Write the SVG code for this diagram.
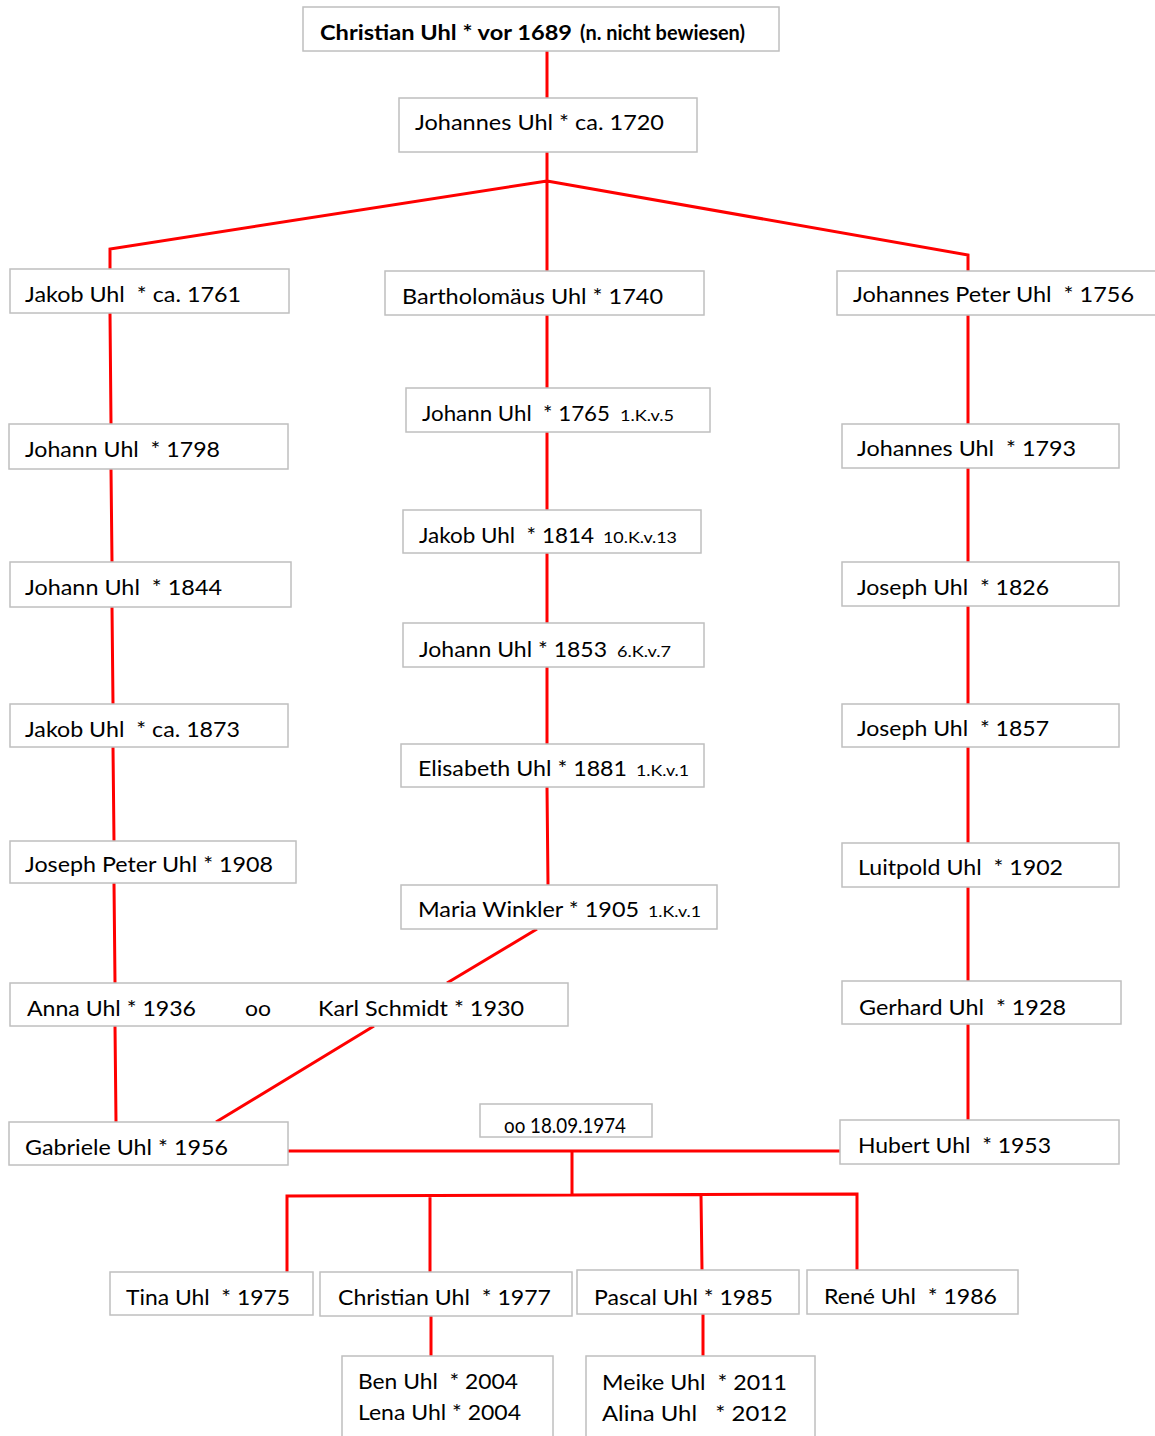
<svg xmlns="http://www.w3.org/2000/svg" width="1155" height="1436" viewBox="0 0 1155 1436" xml:space="preserve">
<style>
.box{fill:#fff;stroke:#bfbfbf;stroke-width:1.5}
text{font-family:Lato,"Liberation Sans",sans-serif;font-size:21px;fill:#000;white-space:pre}
.sm{font-size:15px}
.b{font-weight:bold}
.c{stroke:#ff0000;stroke-width:3;fill:none;stroke-linejoin:miter}
</style>
<rect width="1155" height="1436" fill="#fff"/>
<g id="connectors">
<path class="c" d="M547,51V98M547,152V181M547,181L110,249V269M547,181L968,255V271M547,181V271"/>
<path class="c" d="M110,313L111,424M111,469L112,562M112,607L113,704M113,747L114,841M114,883L115,983M115,1026L116,1122"/>
<path class="c" d="M547,315V388M547,432V510M547,553V623M547,667V744M547,787L548,885"/>
<path class="c" d="M537,929L447,983M374,1026L216,1122"/>
<path class="c" d="M968,315V424M968,468V562M968,606V704M968,747V843M968,887V981M968,1024V1120"/>
<path class="c" d="M288,1151H840M572,1151V1195M287,1272V1196L857,1194V1270M430,1196V1272M701,1195L702,1270M431,1316V1356M703,1314V1356"/>
</g>
<g id="n1"><rect class="box" x="303" y="7" width="476" height="44"/><text class="b" x="320" y="40" font-size="22" textLength="252" lengthAdjust="spacingAndGlyphs">Christian Uhl * vor 1689</text><text class="b" x="580" y="40" font-size="16" textLength="165" lengthAdjust="spacingAndGlyphs">(n. nicht bewiesen)</text></g>
<g id="n2"><rect class="box" x="399" y="98" width="298" height="54"/><text x="415" y="130" textLength="249" lengthAdjust="spacingAndGlyphs">Johannes Uhl * ca. 1720</text></g>
<g id="n3"><rect class="box" x="10" y="269" width="279" height="44"/><text x="25" y="302" textLength="216" lengthAdjust="spacingAndGlyphs">Jakob Uhl  * ca. 1761</text></g>
<g id="n4"><rect class="box" x="385" y="271" width="319" height="44"/><text x="402" y="304" textLength="261" lengthAdjust="spacingAndGlyphs">Bartholomäus Uhl * 1740</text></g>
<g id="n5"><rect class="box" x="837" y="271" width="330" height="44"/><text x="853" y="302" textLength="281" lengthAdjust="spacingAndGlyphs">Johannes Peter Uhl  * 1756</text></g>
<g id="n6"><rect class="box" x="406" y="388" width="304" height="44"/><text x="422" y="421" textLength="188" lengthAdjust="spacingAndGlyphs">Johann Uhl  * 1765</text><text class="sm" x="620" y="421" textLength="54" lengthAdjust="spacingAndGlyphs">1.K.v.5</text></g>
<g id="n7"><rect class="box" x="9" y="424" width="279" height="45"/><text x="25" y="457" textLength="195" lengthAdjust="spacingAndGlyphs">Johann Uhl  * 1798</text></g>
<g id="n8"><rect class="box" x="842" y="424" width="277" height="44"/><text x="857" y="456" textLength="219" lengthAdjust="spacingAndGlyphs">Johannes Uhl  * 1793</text></g>
<g id="n9"><rect class="box" x="403" y="510" width="298" height="43"/><text x="419" y="543" textLength="175" lengthAdjust="spacingAndGlyphs">Jakob Uhl  * 1814</text><text class="sm" x="603" y="543" textLength="74" lengthAdjust="spacingAndGlyphs">10.K.v.13</text></g>
<g id="n10"><rect class="box" x="10" y="562" width="281" height="45"/><text x="25" y="595" textLength="197" lengthAdjust="spacingAndGlyphs">Johann Uhl  * 1844</text></g>
<g id="n11"><rect class="box" x="842" y="562" width="277" height="44"/><text x="857" y="595" textLength="192" lengthAdjust="spacingAndGlyphs">Joseph Uhl  * 1826</text></g>
<g id="n12"><rect class="box" x="403" y="623" width="301" height="44"/><text x="419" y="657" textLength="188" lengthAdjust="spacingAndGlyphs">Johann Uhl * 1853</text><text class="sm" x="617" y="657" textLength="54" lengthAdjust="spacingAndGlyphs">6.K.v.7</text></g>
<g id="n13"><rect class="box" x="10" y="704" width="278" height="43"/><text x="25" y="737" textLength="215" lengthAdjust="spacingAndGlyphs">Jakob Uhl  * ca. 1873</text></g>
<g id="n14"><rect class="box" x="842" y="704" width="277" height="43"/><text x="857" y="736" textLength="192" lengthAdjust="spacingAndGlyphs">Joseph Uhl  * 1857</text></g>
<g id="n15"><rect class="box" x="401" y="744" width="303" height="43"/><text x="418" y="776" textLength="209" lengthAdjust="spacingAndGlyphs">Elisabeth Uhl * 1881</text><text class="sm" x="636" y="776" textLength="53" lengthAdjust="spacingAndGlyphs">1.K.v.1</text></g>
<g id="n16"><rect class="box" x="10" y="841" width="286" height="42"/><text x="25" y="872" textLength="248" lengthAdjust="spacingAndGlyphs">Joseph Peter Uhl * 1908</text></g>
<g id="n17"><rect class="box" x="842" y="843" width="277" height="44"/><text x="858" y="875" textLength="205" lengthAdjust="spacingAndGlyphs">Luitpold Uhl  * 1902</text></g>
<g id="n18"><rect class="box" x="401" y="885" width="316" height="44"/><text x="418" y="917" textLength="221" lengthAdjust="spacingAndGlyphs">Maria Winkler * 1905</text><text class="sm" x="648" y="917" textLength="53" lengthAdjust="spacingAndGlyphs">1.K.v.1</text></g>
<g id="n19"><rect class="box" x="10" y="983" width="558" height="43"/><text x="27" y="1016" textLength="169" lengthAdjust="spacingAndGlyphs">Anna Uhl * 1936</text><text x="245" y="1016" textLength="26" lengthAdjust="spacingAndGlyphs">oo</text><text x="318" y="1016" textLength="206" lengthAdjust="spacingAndGlyphs">Karl Schmidt * 1930</text></g>
<g id="n20"><rect class="box" x="842" y="981" width="279" height="43"/><text x="859" y="1015" textLength="207" lengthAdjust="spacingAndGlyphs">Gerhard Uhl  * 1928</text></g>
<g id="n21"><rect class="box" x="9" y="1122" width="279" height="43"/><text x="25" y="1155" textLength="203" lengthAdjust="spacingAndGlyphs">Gabriele Uhl * 1956</text></g>
<g id="n22"><rect class="box" x="480" y="1104" width="172" height="33"/><text x="504" y="1133" font-size="16" textLength="122" lengthAdjust="spacingAndGlyphs">oo 18.09.1974</text></g>
<g id="n23"><rect class="box" x="840" y="1120" width="279" height="44"/><text x="858" y="1153" textLength="193" lengthAdjust="spacingAndGlyphs">Hubert Uhl  * 1953</text></g>
<g id="n24"><rect class="box" x="110" y="1272" width="203" height="43"/><text x="126" y="1305" textLength="164" lengthAdjust="spacingAndGlyphs">Tina Uhl  * 1975</text></g>
<g id="n25"><rect class="box" x="320" y="1272" width="252" height="44"/><text x="338" y="1305" textLength="213" lengthAdjust="spacingAndGlyphs">Christian Uhl  * 1977</text></g>
<g id="n26"><rect class="box" x="577" y="1270" width="222" height="44"/><text x="594" y="1305" textLength="179" lengthAdjust="spacingAndGlyphs">Pascal Uhl * 1985</text></g>
<g id="n27"><rect class="box" x="807" y="1270" width="211" height="44"/><text x="824" y="1304" textLength="173" lengthAdjust="spacingAndGlyphs">René Uhl  * 1986</text></g>
<g id="n28"><rect class="box" x="342" y="1356" width="211" height="100"/><text x="358" y="1389" textLength="160" lengthAdjust="spacingAndGlyphs">Ben Uhl  * 2004</text><text x="358" y="1420" textLength="163" lengthAdjust="spacingAndGlyphs">Lena Uhl * 2004</text></g>
<g id="n29"><rect class="box" x="586" y="1356" width="229" height="100"/><text x="602" y="1390" textLength="185" lengthAdjust="spacingAndGlyphs">Meike Uhl  * 2011</text><text x="602" y="1421" textLength="185" lengthAdjust="spacingAndGlyphs">Alina Uhl   * 2012</text></g>
</svg>
